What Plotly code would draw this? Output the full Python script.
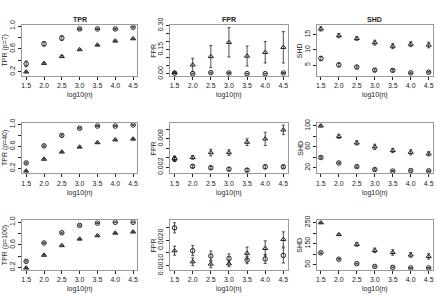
import plotly.graph_objects as go

# ---------------- data ----------------
log10n = [1.5, 2.0, 2.5, 3.0, 3.5, 4.0, 4.5]

tpr7_circ = [0.34, 0.69, 0.79, 0.95, 0.95, 0.95, 0.98]
tpr7_circ_err = [0.05, 0.04, 0.04, 0.01, 0.01, 0.01, 0.01]
tpr7_tri = [0.20, 0.35, 0.47, 0.59, 0.67, 0.74, 0.78]
tpr7_tri_err = [0.01, 0.01, 0.015, 0.01, 0.01, 0.01, 0.01]

fpr7_circ = [0.005, 0.002, 0.008, 0.006, 0.002, 0.002, 0.006]
fpr7_circ_err = [0.003, 0.002, 0.003, 0.003, 0.002, 0.002, 0.003]
fpr7_tri = [0.009, 0.056, 0.108, 0.196, 0.111, 0.134, 0.165]
fpr7_tri_err = [0.004, 0.041, 0.069, 0.091, 0.062, 0.066, 0.097]

shd7_circ = [7.2, 5.1, 4.4, 3.4, 3.3, 2.5, 2.7]
shd7_circ_err = [0.7, 0.6, 0.4, 0.4, 0.3, 0.2, 0.2]
shd7_tri = [16.9, 14.7, 13.75, 12.4, 11.25, 11.9, 11.6]
shd7_tri_err = [0.7, 0.7, 0.6, 0.8, 0.8, 0.8, 0.9]

tpr40_circ = [0.30, 0.61, 0.80, 0.93, 0.97, 0.97, 0.99]
tpr40_circ_err = [0.015, 0.015, 0.012, 0.01, 0.008, 0.008, 0.006]
tpr40_tri = [0.155, 0.37, 0.50, 0.59, 0.67, 0.72, 0.735]
tpr40_tri_err = [0.01, 0.01, 0.01, 0.01, 0.01, 0.01, 0.01]

fpr40_circ = [0.0037, 0.0022, 0.0019, 0.0016, 0.0014, 0.0021, 0.0021]
fpr40_circ_err = [0.0005, 0.0003, 0.0003, 0.0003, 0.0003, 0.0004, 0.0003]
fpr40_tri = [0.0039, 0.0041, 0.0051, 0.0051, 0.0073, 0.0080, 0.0099]
fpr40_tri_err = [0.0005, 0.0004, 0.0007, 0.0006, 0.0007, 0.0014, 0.0010]

shd40_circ = [39.5, 29.0, 22.0, 16.5, 13.5, 14.5, 14.0]
shd40_circ_err = [1.5, 1.5, 1.5, 1.5, 1.0, 1.0, 1.0]
shd40_tri = [100.0, 80.0, 67.5, 60.0, 53.0, 49.5, 46.5]
shd40_tri_err = [2, 4, 4, 5, 4, 5, 4]

tpr100_circ = [0.31, 0.635, 0.815, 0.945, 0.985, 1.0, 1.0]
tpr100_circ_err = [0.01, 0.01, 0.01, 0.008, 0.005, 0.003, 0.003]
tpr100_tri = [0.195, 0.42, 0.59, 0.705, 0.765, 0.81, 0.83]
tpr100_tri_err = [0.01, 0.01, 0.01, 0.01, 0.01, 0.01, 0.01]

fpr100_circ = [0.00250, 0.00159, 0.00138, 0.00128, 0.00122, 0.00126, 0.00140]
fpr100_circ_err = [0.00020, 0.00020, 0.00020, 0.00018, 0.00015, 0.00018, 0.00030]
fpr100_tri = [0.00159, 0.00115, 0.00106, 0.00107, 0.00149, 0.00168, 0.00204]
fpr100_tri_err = [0.00018, 0.00015, 0.00015, 0.00012, 0.00024, 0.00030, 0.00030]

shd100_circ = [107.0, 77.0, 55.7, 42.9, 38.6, 35.7, 35.7]
shd100_circ_err = [3, 3, 2, 2, 2, 2, 2]
shd100_tri = [248.6, 193.0, 147.0, 118.6, 108.6, 97.0, 90.0]
shd100_tri_err = [3, 4, 9, 11, 13, 11, 13]

col_titles = ["TPR", "FPR", "SHD"]
y_titles = ["TPR (p=7)", "FPR", "SHD",
            "TPR (p=40)", "FPR", "SHD",
            "TPR (p=100)", "FPR", "SHD"]
x_title = "log10(n)"
x_tickvals = [1.5, 2.0, 2.5, 3.0, 3.5, 4.0, 4.5]
x_ticktext = ["1.5", "2.0", "2.5", "3.0", "3.5", "4.0", "4.5"]

y_tickvals = [
    [0.2, 0.4, 0.6, 0.8, 1.0],
    [0.0, 0.05, 0.10, 0.15, 0.20, 0.25, 0.30],
    [5, 10, 15],
    [0.2, 0.4, 0.6, 0.8, 1.0],
    [0.002, 0.004, 0.006, 0.008, 0.010],
    [20, 40, 60, 80, 100],
    [0.2, 0.4, 0.6, 0.8, 1.0],
    [0.0010, 0.0015, 0.0020, 0.0025],
    [50, 100, 150, 200, 250],
]
y_ticktext = [
    ["0.2", "", "0.6", "", "1.0"],
    ["0.00", "", "", "0.15", "", "", "0.30"],
    ["5", "10", "15"],
    ["0.2", "", "0.6", "", "1.0"],
    ["0.002", "", "", "0.008", ""],
    ["20", "", "60", "", "100"],
    ["0.2", "", "0.6", "", "1.0"],
    ["0.0010", "", "0.0020", ""],
    ["50", "", "150", "", "250"],
]

panels = [
    (tpr7_circ, tpr7_circ_err, tpr7_tri, tpr7_tri_err),
    (fpr7_circ, fpr7_circ_err, fpr7_tri, fpr7_tri_err),
    (shd7_circ, shd7_circ_err, shd7_tri, shd7_tri_err),
    (tpr40_circ, tpr40_circ_err, tpr40_tri, tpr40_tri_err),
    (fpr40_circ, fpr40_circ_err, fpr40_tri, fpr40_tri_err),
    (shd40_circ, shd40_circ_err, shd40_tri, shd40_tri_err),
    (tpr100_circ, tpr100_circ_err, tpr100_tri, tpr100_tri_err),
    (fpr100_circ, fpr100_circ_err, fpr100_tri, fpr100_tri_err),
    (shd100_circ, shd100_circ_err, shd100_tri, shd100_tri_err),
]

# ---------------- layout (pixels) ----------------
W, H = 437, 297
col_px = [(21, 137), (170, 288), (317, 434)]
row_px = [(18, 71), (120, 173), (222, 274)]
y_ranges = [
    [0.13, 1.015], [-0.012, 0.302], [1.5, 18.1],
    [0.11, 1.03], [0.0007, 0.0114], [9, 106],
    [0.158, 1.035], [0.00082, 0.0028], [26, 260],
]
x_range = [1.38, 4.62]

FONT = "Liberation Sans, Arial, sans-serif"
INK = "#222222"
FS = 7

fig = go.Figure()
layout = dict(
    width=W, height=H, margin=dict(l=0, r=0, t=0, b=0),
    paper_bgcolor="white", plot_bgcolor="white", showlegend=False,
    font=dict(family=FONT, size=FS, color=INK),
)
annotations = []

for i, (c, ce, t, te) in enumerate(panels):
    r, k = divmod(i, 3)
    n = i + 1
    xa = "x" if n == 1 else f"x{n}"
    ya = "y" if n == 1 else f"y{n}"
    x0, x1 = col_px[k]
    y0, y1 = row_px[r]
    for vals, errs, sym in ((c, ce, "circle-open"), (t, te, "triangle-up-open")):
        fig.add_trace(go.Scatter(
            x=log10n, y=vals, mode="markers", xaxis=xa, yaxis=ya,
            marker=dict(symbol=sym, size=4.5, color=INK, line=dict(width=1, color=INK)),
            error_y=dict(type="data", array=errs, visible=True, thickness=0.8, width=1.5, color=INK),
        ))
    axcommon = dict(showgrid=False, zeroline=False, showline=True, mirror=True,
                    linecolor="#9a9a9a", linewidth=1, ticks="outside", ticklen=3,
                    tickcolor=INK, tickwidth=1, tickfont=dict(size=FS, family=FONT, color=INK))
    layout["xaxis" if n == 1 else f"xaxis{n}"] = dict(
        axcommon, domain=[x0 / W, x1 / W], range=x_range, anchor=ya,
        tickvals=x_tickvals, ticktext=x_ticktext, tickangle=0)
    layout["yaxis" if n == 1 else f"yaxis{n}"] = dict(
        axcommon, domain=[1 - y1 / H, 1 - y0 / H], range=y_ranges[i], anchor=xa,
        tickvals=y_tickvals[i], ticktext=y_ticktext[i], tickangle=-90)
    # y title
    annotations.append(dict(text=y_titles[i], xref="paper", yref="paper",
                            x=(x0 - 17) / W, y=1 - (y0 + y1) / 2 / H, textangle=-90,
                            showarrow=False, xanchor="center", yanchor="middle",
                            font=dict(size=FS, family=FONT, color=INK)))
    # x title
    annotations.append(dict(text=x_title, xref="paper", yref="paper",
                            x=(x0 + x1) / 2 / W, y=1 - (y1 + 20) / H,
                            showarrow=False, xanchor="center", yanchor="middle",
                            font=dict(size=FS, family=FONT, color=INK)))

for k, ttl in enumerate(col_titles):
    x0, x1 = col_px[k]
    annotations.append(dict(text=f"<b>{ttl}</b>", xref="paper", yref="paper",
                            x=(x0 + x1) / 2 / W, y=1 - 12 / H, showarrow=False,
                            xanchor="center", yanchor="middle",
                            font=dict(size=FS, family=FONT, color=INK)))

layout["annotations"] = annotations
fig.update_layout(**layout)
fig.write_html("out.html")
